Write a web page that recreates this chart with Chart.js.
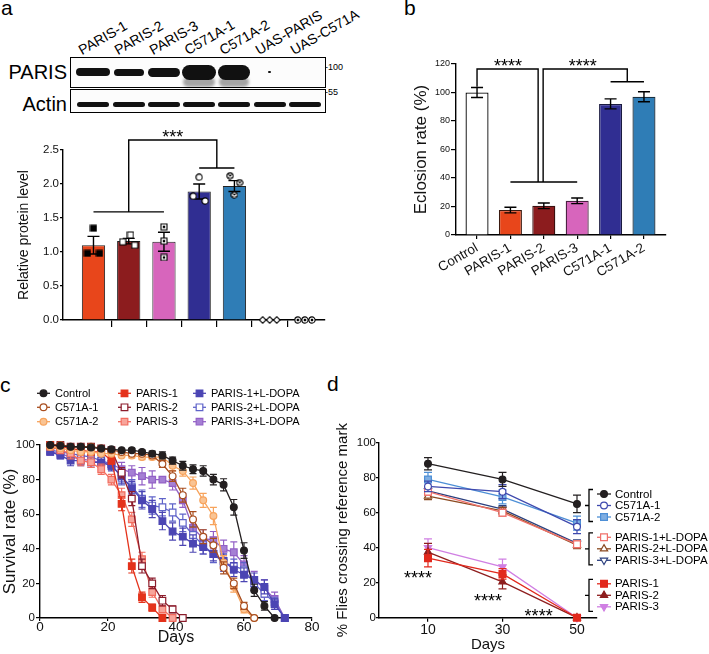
<!DOCTYPE html>
<html>
<head>
<meta charset="utf-8">
<title>PARIS figure</title>
<script src="https://cdn.jsdelivr.net/npm/chart.js@4.4.1/dist/chart.umd.min.js"></script>
<style>
  html, body { margin: 0; padding: 0; background: #fff; }
  #fig { position: relative; width: 709px; height: 654px; overflow: hidden;
         font-family: Arial, "Liberation Sans", Helvetica, sans-serif; color: #000; }
  #fig canvas { position: absolute; }
  .tag { position: absolute; font-size: 21px; line-height: 21px; }
  .lane { position: absolute; font-size: 14px; line-height: 14px; white-space: nowrap;
          transform-origin: 0 100%; transform: rotate(-30deg); }
  .blot { position: absolute; border: 1.5px solid #000; box-sizing: border-box; background: #fcfcfc; }
  .band { position: absolute; background: #111; filter: blur(0.7px); }
  .rowname { position: absolute; left: 0; width: 67px; text-align: right; font-size: 20px; line-height: 20px; }
  .kda { position: absolute; left: 325px; font-size: 9px; line-height: 10px; }
</style>
</head>
<body>
<div id="fig">
  <div class="tag" style="left:1px;top:-3px">a</div>
  <div class="tag" style="left:404px;top:-3px">b</div>
  <div class="tag" style="left:0px;top:374px">c</div>
  <div class="tag" style="left:327px;top:373px">d</div>

  <div class="rowname" style="top:62px">PARIS</div>
  <div class="rowname" style="top:94px">Actin</div>
  <div class="blot" style="left:70px;top:57px;width:256px;height:31px"></div>
  <div class="blot" style="left:70px;top:89px;width:256px;height:24px"></div>
  <div class="kda" style="top:62px">-100</div>
  <div class="kda" style="top:87px">-55</div>

  <canvas id="chartA" width="340" height="215" style="left:0;top:120px"></canvas>
  <canvas id="chartB" width="300" height="300" style="left:400px;top:20px"></canvas>
  <canvas id="chartC" width="335" height="276" style="left:0;top:378px"></canvas>
  <canvas id="chartD" width="379" height="276" style="left:330px;top:378px"></canvas>
</div>

<script>
// ---- panel a : western blot quantification
const aLanes = ['PARIS-1', 'PARIS-2', 'PARIS-3', 'C571A-1', 'C571A-2', 'UAS-PARIS', 'UAS-C571A'];
const aMean = [1.10, 1.16, 1.15, 1.89, 1.97, 0, 0];
const aSem = [0.13, 0.04, 0.14, 0.11, 0.08, 0, 0];
const aDots = [
  [1.35, 0.98, 0.98],
  [1.25, 1.15, 1.10],
  [1.37, 1.16, 0.92],
  [2.10, 1.82, 1.75],
  [2.12, 2.02, 1.84],
  [0, 0, 0],
  [0, 0, 0]
];
const aTicks = [0, 0.5, 1.0, 1.5, 2.0, 2.5];

// ---- panel b : eclosion
const bGroups = ['Control', 'PARIS-1', 'PARIS-2', 'PARIS-3', 'C571A-1', 'C571A-2'];
const bRate = [100, 17.5, 20.5, 24, 92, 97];
const bSem = [3.5, 2, 2, 2, 3.5, 3.5];
const bTicks = [0, 20, 40, 60, 80, 100, 120];

// ---- panel c : survival
const cDays = [3, 6, 9, 12, 15, 18, 21, 24, 27, 30, 33, 36, 39, 42, 45, 48, 51, 54, 57, 60, 63, 66, 69, 72];
const cNames = ['Control', 'C571A-1', 'C571A-2', 'PARIS-1', 'PARIS-2', 'PARIS-3',
                'PARIS-1+L-DOPA', 'PARIS-2+L-DOPA', 'PARIS-3+L-DOPA'];
const cControl = [100, 99.5, 99, 99, 98.5, 98, 97.5, 97, 97, 96, 95, 94, 91, 88, 86, 85, 80, 77, 64, 39, 16, 7, 0];
const cControlErr = [0, 0.5, 0.5, 0.5, 0.5, 0.5, 0.7, 0.8, 1, 1, 1.5, 2, 2, 2.5, 2.5, 3, 3, 3.5, 4.5, 4.5, 3.5, 2.5, 0];
const cC571A1 = [100, 100, 99, 99, 99, 98, 97, 96, 95, 95, 94, 89, 82, 71, 57, 47, 42, 29, 20, 7, 0];
const cC571A1Err = [0, 0, 0.5, 0.5, 0.5, 0.8, 1, 1, 1, 1, 1.5, 2, 3, 4, 4.5, 4, 4, 3.5, 3, 2, 0];
const cC571A2 = [99, 98, 97, 96, 96, 95, 95, 94, 94, 93, 93, 93, 88, 85, 78, 68, 59, 32, 18, 5, 0];
const cC571A2Err = [1, 1, 1, 1, 1, 1, 1, 1, 1.5, 1.5, 1.5, 1.5, 3, 3, 3.5, 4, 5, 4, 3, 2, 0];
const cParis1 = [100, 99, 98, 97, 96, 96, 91, 66, 30, 12, 6, 0];
const cParis1Err = [0, 1, 1, 1, 1, 1, 2, 4, 4, 3, 2, 0];
const cParis2 = [100, 100, 99, 99, 99, 98, 97, 84, 69, 30, 20, 10, 5, 0];
const cParis2Err = [0, 0, 0.5, 0.5, 0.5, 1, 1, 3, 4, 4, 3, 3, 2, 0];
const cParis3 = [99, 97, 95, 91, 90, 86, 80, 71, 57, 34, 15, 5, 0];
const cParis3Err = [1, 2, 3, 3, 3, 3, 3, 4, 4, 4, 3, 2, 0];
const cParis1Dopa = [96, 94, 91, 91, 90, 90, 88, 82, 75, 68, 63, 56, 50, 47, 43, 41, 37, 33, 28, 25, 22, 18, 8, 0];
const cParis1DopaErr = [1.5, 2, 3, 3, 3, 3, 3, 4, 4, 5, 5, 5, 5, 5, 5, 4, 4, 4, 4, 4, 4, 4, 3, 0];
const cParis2Dopa = [97, 96, 95, 94, 93, 91, 89, 81, 76, 69, 65, 64, 61, 55, 48, 42, 37, 32, 30, 28, 20, 14, 9, 0];
const cParis2DopaErr = [1.5, 2, 2, 2, 3, 3, 3, 4, 4, 5, 5, 5, 5, 5, 5, 5, 5, 5, 4, 4, 4, 4, 3, 0];
const cParis3Dopa = [96, 95, 93, 92, 91, 90, 89, 86, 84, 82, 80, 80, 78, 68, 52, 46, 45, 40, 38, 31, 22, 17, 11, 0];
const cParis3DopaErr = [1.5, 2, 3, 3, 3, 3, 3, 4, 4, 5, 5, 1, 4, 4, 5, 5, 5, 5, 6, 5, 5, 5, 4, 0];
const cXTicks = [0, 20, 40, 60, 80];
const cYTicks = [0, 20, 40, 60, 80, 100];

// ---- panel d : climbing
const dDays = [10, 30, 50];
const dNames = ['Control', 'C571A-1', 'C571A-2', 'PARIS-1+L-DOPA', 'PARIS-2+L-DOPA', 'PARIS-3+L-DOPA',
                'PARIS-1', 'PARIS-2', 'PARIS-3'];
const dControl = [88, 79, 65],       dControlErr = [3.5, 4, 5];
const dC571A1 = [75, 72, 52],        dC571A1Err = [3, 4, 4];
const dC571A2 = [79, 69, 54],        dC571A2Err = [4, 4, 4];
const dParis1Dopa = [72, 60, 42],    dParis1DopaErr = [2, 2, 2];
const dParis2Dopa = [69.5, 61, 41.5], dParis2DopaErr = [2, 2, 2];
const dParis3Dopa = [72.5, 62, 42.5], dParis3DopaErr = [2, 2, 2];
const dParis1 = [34, 25, 0],         dParis1Err = [5, 3, 0];
const dParis2 = [37.5, 20.5, 0],     dParis2Err = [5, 4, 0];
const dParis3 = [40, 29, 0],         dParis3Err = [5, 4.5, 0];
const dYTicks = [0, 20, 40, 60, 80, 100];

// ---- styles
const FONT = 'Arial, "Liberation Sans", Helvetica, sans-serif';
Chart.defaults.font.family = FONT;
Chart.defaults.color = '#111';
Chart.defaults.animation = false;
Chart.defaults.plugins.legend.display = false;
Chart.defaults.plugins.tooltip.enabled = false;

const A_FILL = ['#E8461B', '#8C1C1E', '#D765BC', '#302E92', '#2F7DB6', '#fff', '#fff'];
const A_DOT = ['sqFill', 'sqOpen', 'sqDot', 'cirOpen', 'cirX', 'diamond', 'cirDot'];
const A_JITTER = [[0, -0.17, 0.17], [0.05, -0.17, 0.17], [0, 0, 0], [0, -0.17, 0.17],
                  [-0.12, 0.15, 0], [-0.2, 0, 0.2], [-0.2, 0, 0.2]];
const B_FILL = ['#fff', '#E8461B', '#8C1C1E', '#D765BC', '#302E92', '#2F7DB6'];
const B_EDGE = ['#000', '#3a1a10', '#3a1010', '#4a2040', '#1a1a40', '#1a3040'];
const PARIS_BANDS = [{ w: 34, h: 8 }, { w: 30, h: 7 }, { w: 32, h: 9 }, { w: 34, h: 15, smear: 10 },
                     { w: 32, h: 15, smear: 10 }, { w: 3, h: 2 }, null];
const ACTIN_BAND = { w: 32, h: 5 };

const C_STYLE = [
  { color: '#231F20', fill: '#231F20', style: 'circle', r: 3.4 },
  { color: '#A94E1F', fill: '#fff', style: 'circle', r: 3.4 },
  { color: '#F7A35C', fill: '#F9C494', style: 'circle', r: 3.4 },
  { color: '#E4321B', fill: '#E4321B', style: 'rect', r: 4.7 },
  { color: '#8C1D2C', fill: '#fff', style: 'rect', r: 4.7 },
  { color: '#F26C5E', fill: '#F7A59B', style: 'rect', r: 4.7 },
  { color: '#4B45B3', fill: '#4B45B3', style: 'rect', r: 4.7 },
  { color: '#5F63C9', fill: '#fff', style: 'rect', r: 4.7 },
  { color: '#9260C6', fill: '#A57FD4', style: 'rect', r: 4.7 }
];
const D_STYLE = [
  { color: '#231F20', fill: '#231F20', style: 'circle', r: 3.4 },
  { color: '#3E49AE', fill: '#fff', style: 'circle', r: 3.4 },
  { color: '#4D8FD6', fill: '#7FAEE2', style: 'rect', r: 4.8 },
  { color: '#F0716B', fill: '#fff', style: 'rect', r: 4.8 },
  { color: '#8B4A21', fill: '#fff', style: 'triangle', r: 4.2 },
  { color: '#2B3F7E', fill: '#fff', style: 'triangle', r: 4.2, rot: 180 },
  { color: '#E2291D', fill: '#E2291D', style: 'rect', r: 4.8 },
  { color: '#8E1E1E', fill: '#8E1E1E', style: 'triangle', r: 4.2 },
  { color: '#D07FE3', fill: '#D07FE3', style: 'triangle', r: 4.2, rot: 180 }
];

// ---- helpers
function dotMarker(kind) {
  const s = 8, m = s / 2;
  const c = document.createElement('canvas');
  c.width = c.height = s;
  const g = c.getContext('2d');
  g.lineWidth = 1.1;
  g.strokeStyle = '#000';
  g.beginPath();
  if (kind.startsWith('sq')) g.rect(1, 1, s - 2, s - 2);
  else if (kind === 'diamond') { g.moveTo(m, 0.7); g.lineTo(s - 0.7, m); g.lineTo(m, s - 0.7); g.lineTo(0.7, m); g.closePath(); }
  else g.arc(m, m, m - 0.9, 0, Math.PI * 2);
  g.fillStyle = kind === 'sqFill' ? '#000' : '#fff';
  g.fill();
  g.stroke();
  if (kind === 'sqDot' || kind === 'cirDot') { g.fillStyle = '#000'; g.fillRect(m - 1.2, m - 1.2, 2.4, 2.4); }
  if (kind === 'cirX') {
    g.beginPath();
    g.moveTo(2.4, 2.4); g.lineTo(s - 2.4, s - 2.4);
    g.moveTo(s - 2.4, 2.4); g.lineTo(2.4, s - 2.4);
    g.stroke();
  }
  return c;
}

function lineSet(name, values, err, st, days, cap) {
  return {
    label: name,
    data: values.map((v, i) => ({ x: days[i], y: v })),
    errors: err, errorColor: st.color, capWidth: cap, errorWidth: 1.2, errorPhase: 'before',
    borderColor: st.color, backgroundColor: st.color, borderWidth: 1.3,
    pointStyle: st.style, pointRotation: st.rot || 0, pointRadius: st.r,
    pointBackgroundColor: st.fill, pointBorderColor: st.color, pointBorderWidth: 1.2,
    tension: 0, clip: false, fill: false
  };
}

function drawKey(ctx, ds, x, y, w) {
  ctx.strokeStyle = ds.borderColor;
  ctx.lineWidth = ds.borderWidth;
  ctx.beginPath();
  ctx.moveTo(x, y);
  ctx.lineTo(x + w, y);
  ctx.stroke();
  ctx.fillStyle = ds.pointBackgroundColor;
  ctx.strokeStyle = ds.pointBorderColor;
  ctx.lineWidth = ds.pointBorderWidth;
  Chart.helpers.drawPoint(ctx, {
    pointStyle: ds.pointStyle, rotation: ds.pointRotation, radius: ds.pointRadius, borderWidth: ds.pointBorderWidth
  }, x + w / 2, y);
}

const axisLine = { color: '#000', width: 1.4 };
const tickMarks = (len) => ({ drawOnChartArea: false, drawTicks: true, tickLength: len, color: '#000', lineWidth: 1.2, offset: false });
const fixTicks = (list) => (s) => { s.ticks = list.map(v => ({ value: v })); };

// ---- plugins
const errorBars = {
  id: 'errorBars',
  draw(chart, idx, phase) {
    const ds = chart.data.datasets[idx];
    if (!ds.errors || (ds.errorPhase || 'after') !== phase) return;
    const meta = chart.getDatasetMeta(idx);
    const y = chart.scales.y;
    const ctx = chart.ctx;
    ctx.save();
    ctx.strokeStyle = ds.errorColor || '#000';
    ctx.lineWidth = ds.errorWidth || 1.3;
    ctx.beginPath();
    meta.data.forEach((el, i) => {
      const e = ds.errors[i];
      if (!e) return;
      const p = ds.data[i];
      const v = typeof p === 'object' ? p.y : p;
      const top = y.getPixelForValue(v + e), bot = y.getPixelForValue(v - e);
      const half = ds.capWidth / 2;
      ctx.moveTo(el.x, top); ctx.lineTo(el.x, bot);
      ctx.moveTo(el.x - half, top); ctx.lineTo(el.x + half, top);
      ctx.moveTo(el.x - half, bot); ctx.lineTo(el.x + half, bot);
    });
    ctx.stroke();
    ctx.restore();
  },
  beforeDatasetDraw(chart, args) { this.draw(chart, args.index, 'before'); },
  afterDatasetDraw(chart, args) { this.draw(chart, args.index, 'after'); }
};

const brackets = {
  id: 'brackets',
  afterDraw(chart, args, opts) {
    const { ctx, scales: { x, y } } = chart;
    ctx.save();
    ctx.strokeStyle = '#000';
    ctx.lineWidth = opts.lineWidth || 1.4;
    ctx.beginPath();
    (opts.lines || []).forEach(pts => pts.forEach(([vx, vy], k) => {
      const px = x.getPixelForValue(vx), py = y.getPixelForValue(vy);
      if (k) ctx.lineTo(px, py); else ctx.moveTo(px, py);
    }));
    ctx.stroke();
    ctx.font = opts.font || '18px ' + FONT;
    ctx.fillStyle = '#000';
    ctx.textAlign = 'center';
    ctx.textBaseline = 'alphabetic';
    (opts.labels || []).forEach(l => ctx.fillText(l.text, x.getPixelForValue(l.x), y.getPixelForValue(l.y)));
    ctx.restore();
  }
};

const gridLegend = {
  id: 'gridLegend',
  afterDraw(chart, args, opts) {
    if (!opts.cols) return;
    const ctx = chart.ctx;
    ctx.save();
    chart.data.datasets.forEach((ds, i) => {
      const x = opts.cols[Math.floor(i / opts.rows.length)];
      const y = opts.rows[i % opts.rows.length];
      drawKey(ctx, ds, x, y, opts.keyWidth);
      ctx.font = opts.font;
      ctx.fillStyle = '#000';
      ctx.textAlign = 'left';
      ctx.textBaseline = 'middle';
      ctx.fillText(ds.label, x + opts.keyWidth + opts.gap, y + 0.5);
    });
    ctx.restore();
  }
};

const bracketLegend = {
  id: 'bracketLegend',
  afterDraw(chart, args, opts) {
    if (!opts.groups) return;
    const ctx = chart.ctx;
    ctx.save();
    opts.groups.forEach((grp, gi) => {
      const cy = opts.centers[gi];
      ctx.strokeStyle = '#000';
      ctx.lineWidth = 1.3;
      ctx.beginPath();
      ctx.moveTo(opts.bx + 4, cy - opts.half);
      ctx.lineTo(opts.bx, cy - opts.half);
      ctx.lineTo(opts.bx, cy + opts.half);
      ctx.lineTo(opts.bx + 4, cy + opts.half);
      ctx.moveTo(opts.bx - 4, cy);
      ctx.lineTo(opts.bx, cy);
      ctx.stroke();
      grp.forEach((di, k) => {
        const ds = chart.data.datasets[di];
        const y = cy + (k - 1) * opts.step;
        drawKey(ctx, ds, opts.kx, y, opts.keyWidth);
        ctx.font = opts.font;
        ctx.fillStyle = '#000';
        ctx.textAlign = 'left';
        ctx.textBaseline = 'middle';
        ctx.fillText(ds.label, opts.kx + opts.keyWidth + opts.gap, y + 0.5);
      });
    });
    ctx.restore();
  }
};

// ---- chart a
const aPoints = [], aStyles = [];
aDots.forEach((grp, i) => grp.forEach((v, k) => {
  aPoints.push({ x: i + A_JITTER[i][k], y: v });
  aStyles.push(dotMarker(A_DOT[i]));
}));

const chartA = new Chart(document.getElementById('chartA'), {
  type: 'bar',
  data: {
    datasets: [{
      type: 'bar',
      data: aMean.map((v, i) => ({ x: i, y: v })),
      backgroundColor: A_FILL, borderColor: '#222', borderWidth: 1,
      barPercentage: 0.66, categoryPercentage: 1,
      errors: aSem, errorColor: '#000', capWidth: 12, errorWidth: 1.4, errorPhase: 'after',
      order: 2
    }, {
      type: 'scatter',
      data: aPoints,
      pointStyle: aStyles, pointRadius: 4,
      order: 1, clip: false
    }]
  },
  options: {
    responsive: false,
    layout: { padding: { top: 30, right: 15, left: 0, bottom: 0 } },
    scales: {
      x: {
        type: 'linear', min: -0.865, max: 6.57, offset: false,
        afterFit: s => { s.height = 15; },
        afterBuildTicks: fixTicks(aLanes.slice(1).map((_, i) => i + 0.5)),
        ticks: { display: false },
        grid: tickMarks(7), border: axisLine
      },
      y: {
        min: 0, max: 2.5,
        afterFit: s => { s.width = 63; },
        afterBuildTicks: fixTicks(aTicks),
        ticks: { font: { size: 11.5 }, padding: 1, callback: v => v.toFixed(1) },
        grid: tickMarks(3), border: axisLine,
        title: { display: true, text: 'Relative protein level', font: { size: 14 }, padding: { top: 16, bottom: 0 } }
      }
    },
    plugins: {
      brackets: {
        lines: [
          [[1, 1.59], [1, 2.647], [3.5, 2.647], [3.5, 2.235]],
          [[0, 1.59], [2, 1.59]],
          [[3, 2.235], [4, 2.235]]
        ],
        labels: [{ text: '***', x: 2.25, y: 2.60 }]
      }
    }
  },
  plugins: [errorBars, brackets]
});

// blot drawn over the lanes of the quantification axis
(function drawBlot(chart) {
  const fig = document.getElementById('fig');
  const off = chart.canvas.offsetLeft;
  const band = (x, y, b, shade) => {
    const d = document.createElement('div');
    d.className = 'band';
    d.style.cssText = `left:${x - b.w / 2}px;top:${y - b.h / 2}px;width:${b.w}px;height:${b.h}px;border-radius:${b.h / 2}px;` +
      (shade ? `background:${shade};filter:blur(1.5px)` : '');
    fig.appendChild(d);
  };
  aLanes.forEach((name, i) => {
    const x = chart.scales.x.getPixelForValue(i) + off;
    const lab = document.createElement('div');
    lab.className = 'lane';
    lab.textContent = name;
    lab.style.left = (x - 10) + 'px';
    lab.style.top = '43px';
    fig.appendChild(lab);
    const pb = PARIS_BANDS[i];
    if (pb) {
      if (pb.smear) band(x, 72 + pb.h / 2 + 2, { w: pb.w - 2, h: pb.smear }, 'rgba(0,0,0,0.35)');
      band(x, 72, pb);
    }
    band(x, 104, ACTIN_BAND);
  });
})(chartA);

// ---- chart b
new Chart(document.getElementById('chartB'), {
  type: 'bar',
  data: {
    datasets: [{
      data: bRate.map((v, i) => ({ x: i, y: v })),
      backgroundColor: B_FILL, borderColor: B_EDGE, borderWidth: 1.3,
      barPercentage: 0.69, categoryPercentage: 1,
      errors: bSem, errorColor: '#000', capWidth: 12, errorWidth: 1.4, errorPhase: 'after'
    }]
  },
  options: {
    responsive: false,
    layout: { padding: { top: 44, right: 34, left: 0, bottom: 0 } },
    scales: {
      x: {
        type: 'linear', min: -0.63, max: 5.66, offset: false,
        afterFit: s => { s.height = 85; },
        afterBuildTicks: fixTicks(bGroups.map((_, i) => i)),
        ticks: { autoSkip: false, minRotation: 30, maxRotation: 30, padding: 1, font: { size: 13.5 }, callback: v => bGroups[v] },
        grid: tickMarks(4), border: axisLine
      },
      y: {
        min: 0, max: 120,
        afterFit: s => { s.width = 56; },
        afterBuildTicks: fixTicks(bTicks),
        ticks: { font: { size: 9 }, padding: 1 },
        grid: tickMarks(5), border: axisLine,
        title: { display: true, text: 'Eclosion rate (%)', font: { size: 17 }, padding: { top: 10.8, bottom: 0 } }
      }
    },
    plugins: {
      brackets: {
        lines: [
          [[0, 104], [0, 116.5], [1.83, 116.5], [1.83, 37.2]],
          [[1, 37.2], [3, 37.2]],
          [[1.98, 37.2], [1.98, 116.5], [4.5, 116.5], [4.5, 107.5]],
          [[4, 107.5], [5, 107.5]]
        ],
        labels: [{ text: '****', x: 0.93, y: 114.4 }, { text: '****', x: 3.17, y: 114.4 }]
      }
    }
  },
  plugins: [errorBars, brackets]
});

// ---- chart c
const cValues = [cControl, cC571A1, cC571A2, cParis1, cParis2, cParis3, cParis1Dopa, cParis2Dopa, cParis3Dopa];
const cErrors = [cControlErr, cC571A1Err, cC571A2Err, cParis1Err, cParis2Err, cParis3Err,
                 cParis1DopaErr, cParis2DopaErr, cParis3DopaErr];

new Chart(document.getElementById('chartC'), {
  type: 'line',
  data: { datasets: cNames.map((n, i) => lineSet(n, cValues[i], cErrors[i], C_STYLE[i], cDays, 7)) },
  options: {
    responsive: false,
    layout: { padding: { top: 67, right: 23, left: 0, bottom: 0 } },
    scales: {
      x: {
        type: 'linear', min: 0, max: 80,
        afterFit: s => { s.height = 36; },
        afterBuildTicks: fixTicks(cXTicks),
        ticks: { font: { size: 13.5 }, padding: -2, maxRotation: 0 },
        grid: tickMarks(3), border: axisLine,
        title: { display: true, text: 'Days', font: { size: 16 }, padding: { top: 0, bottom: 6.4 } }
      },
      y: {
        min: 0, max: 100,
        afterFit: s => { s.width = 40; },
        afterBuildTicks: fixTicks(cYTicks),
        ticks: { font: { size: 11.5 }, padding: 1 },
        grid: tickMarks(4), border: axisLine,
        title: { display: true, text: 'Survival rate (%)', font: { size: 17 }, padding: { top: 0, bottom: 0 } }
      }
    },
    plugins: {
      gridLegend: { cols: [37, 118, 193], rows: [15.3, 29.3, 43.7], keyWidth: 13, gap: 5, font: '11px ' + FONT }
    }
  },
  plugins: [errorBars, gridLegend]
});

// ---- chart d
const dValues = [dControl, dC571A1, dC571A2, dParis1Dopa, dParis2Dopa, dParis3Dopa, dParis1, dParis2, dParis3];
const dErrors = [dControlErr, dC571A1Err, dC571A2Err, dParis1DopaErr, dParis2DopaErr, dParis3DopaErr,
                 dParis1Err, dParis2Err, dParis3Err];

new Chart(document.getElementById('chartD'), {
  type: 'line',
  data: { datasets: dNames.map((n, i) => lineSet(n, dValues[i], dErrors[i], D_STYLE[i], dDays, 8)) },
  options: {
    responsive: false,
    layout: { padding: { top: 64.7, right: 112, left: 0, bottom: 0 } },
    scales: {
      x: {
        type: 'linear', min: -3.15, max: 55.37,
        afterFit: s => { s.height = 36.3; },
        afterBuildTicks: fixTicks(dDays),
        ticks: { font: { size: 14 }, padding: 0, maxRotation: 0 },
        grid: tickMarks(4), border: axisLine,
        title: { display: true, text: 'Days', font: { size: 15 }, padding: { top: 0, bottom: 0 } }
      },
      y: {
        min: 0, max: 100,
        afterFit: s => { s.width = 49; },
        afterBuildTicks: fixTicks(dYTicks),
        ticks: { font: { size: 11.5 }, padding: 0 },
        grid: tickMarks(3), border: axisLine,
        title: { display: true, text: '% Flies crossing reference mark', font: { size: 15 }, padding: { top: 4, bottom: 0 } }
      }
    },
    plugins: {
      brackets: {
        lines: [],
        labels: [{ text: '****', x: 7.3, y: 19.3 }, { text: '****', x: 26.1, y: 6.3 }, { text: '****', x: 39.7, y: -2.3 }]
      },
      bracketLegend: {
        groups: [[0, 1, 2], [3, 4, 5], [6, 7, 8]],
        centers: [127.5, 170.8, 217.3], half: 16, step: 11.5,
        bx: 259, kx: 267, keyWidth: 14, gap: 4, font: '11.5px ' + FONT
      }
    }
  },
  plugins: [errorBars, brackets, bracketLegend]
});
</script>
</body>
</html>
